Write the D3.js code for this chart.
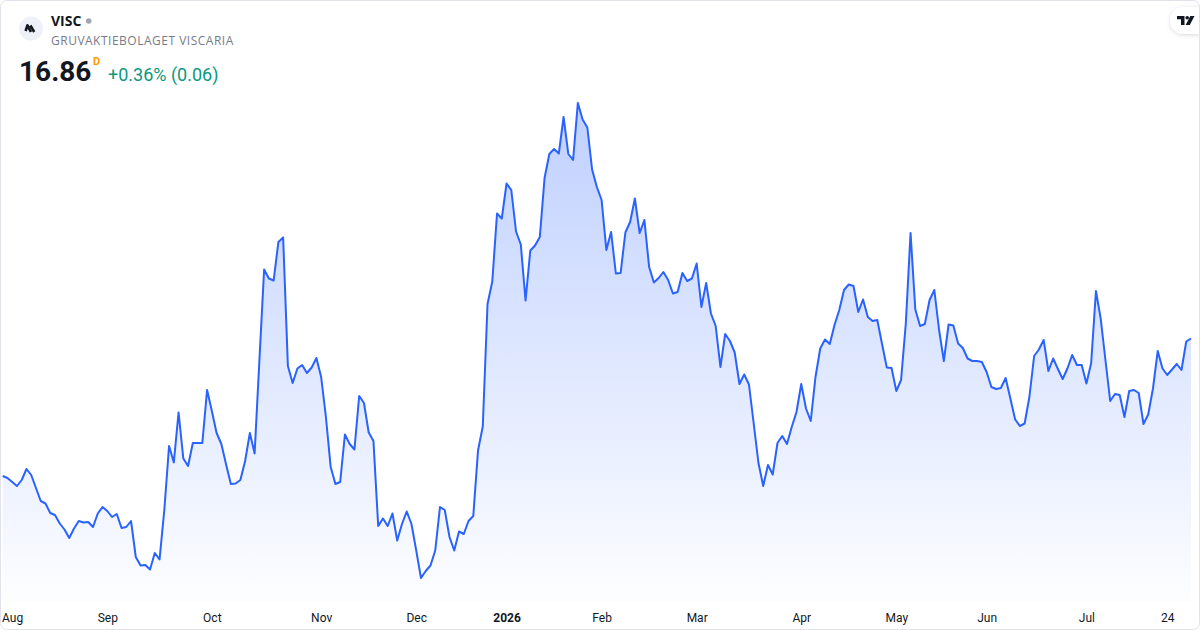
<!DOCTYPE html>
<html>
<head>
<meta charset="utf-8">
<script src="https://cdn.jsdelivr.net/npm/d3@7"></script>
<style>
  body { margin: 0; background: #fff; }
  svg { display: block; font-family: Roboto, "Noto Sans", sans-serif; }
</style>
</head>
<body>
<script>
// daily closes, 31 Jul 2025 .. 31 Jul 2026
const closes = [
  14.11, 14.07, 13.99, 13.91, 14.03, 14.25, 14.13, 13.87, 13.61, 13.56,
  13.37, 13.33, 13.16, 13.04, 12.87, 13.06, 13.21, 13.18, 13.19, 13.09,
  13.36, 13.49, 13.41, 13.29, 13.35, 13.07, 13.09, 13.21, 12.49, 12.32,
  12.33, 12.24, 12.57, 12.44, 13.43, 14.71, 14.38, 15.38, 14.46, 14.31,
  14.77, 14.77, 14.77, 15.83, 15.41, 14.97, 14.75, 14.34, 13.95, 13.96,
  14.03, 14.41, 14.97, 14.56, 16.41, 18.24, 18.06, 18.02, 18.79, 18.88,
  16.31, 15.97, 16.26, 16.33, 16.17, 16.28, 16.47, 16.09, 15.29, 14.29,
  13.95, 13.99, 14.94, 14.75, 14.64, 15.71, 15.57, 14.98, 14.81, 13.11,
  13.26, 13.11, 13.36, 12.82, 13.15, 13.40, 13.15, 12.62, 12.07, 12.21,
  12.32, 12.62, 13.49, 13.43, 12.89, 12.62, 13.00, 12.95, 13.21, 13.31,
  14.62, 15.10, 17.55, 18.00, 19.36, 19.26, 19.96, 19.83, 19.00, 18.74,
  17.62, 18.62, 18.72, 18.89, 20.07, 20.55, 20.65, 20.56, 21.29, 20.55,
  20.43, 21.57, 21.24, 21.08, 20.24, 19.89, 19.63, 18.63, 18.99, 18.16,
  18.17, 18.98, 19.19, 19.66, 18.97, 19.23, 18.29, 17.98, 18.07, 18.19,
  18.03, 17.76, 17.79, 18.17, 18.01, 18.06, 18.36, 17.49, 17.97, 17.36,
  17.11, 16.29, 16.95, 16.81, 16.58, 15.95, 16.14, 15.94, 15.16, 14.37,
  13.91, 14.33, 14.14, 14.77, 14.91, 14.75, 15.09, 15.39, 15.95, 15.46,
  15.21, 16.09, 16.66, 16.84, 16.75, 17.13, 17.43, 17.83, 17.94, 17.91,
  17.39, 17.64, 17.29, 17.21, 17.23, 16.75, 16.28, 16.27, 15.81, 16.03,
  17.16, 18.97, 17.44, 17.11, 17.15, 17.63, 17.83, 17.03, 16.41, 17.14,
  17.12, 16.76, 16.67, 16.46, 16.41, 16.41, 16.39, 16.19, 15.89, 15.85,
  15.87, 16.07, 15.66, 15.24, 15.11, 15.16, 15.69, 16.51, 16.64, 16.83,
  16.21, 16.46, 16.25, 16.05, 16.26, 16.53, 16.33, 16.33, 15.96, 16.37,
  17.81, 17.26, 16.43, 15.61, 15.75, 15.73, 15.29, 15.81, 15.83, 15.77,
  15.15, 15.34, 15.86, 16.61, 16.26, 16.13, 16.24, 16.35, 16.23, 16.80,
  16.86
];

// bar index where each axis label sits
const tickIdx    = [1, 22, 44, 67, 87, 106, 126, 146, 168, 188, 207, 228, 245];
const tickLabels = ["Aug", "Sep", "Oct", "Nov", "Dec", "2026", "Feb", "Mar", "Apr", "May", "Jun", "Jul", "24"];

const W = 1200, H = 630;
const svg = d3.select("body").append("svg").attr("width", W).attr("height", H);

const x = d3.scaleLinear().domain([0, closes.length - 1]).range([2.7, 1191]);
const y = d3.scaleLinear().domain(d3.extent(closes)).range([578, 103]);
const paneBottom = 602;

const defs = svg.append("defs");
const grad = defs.append("linearGradient")
  .attr("id", "fillGrad")
  .attr("gradientUnits", "userSpaceOnUse")
  .attr("x1", 0).attr("y1", 100).attr("x2", 0).attr("y2", paneBottom);
grad.append("stop").attr("offset", "0%").attr("stop-color", "#2962ff").attr("stop-opacity", 0.3);
grad.append("stop").attr("offset", "100%").attr("stop-color", "#2962ff").attr("stop-opacity", 0.01);

const shadow = defs.append("filter").attr("id", "pillShadow")
  .attr("x", "-50%").attr("y", "-50%").attr("width", "200%").attr("height", "200%");
shadow.append("feDropShadow").attr("dx", 0).attr("dy", 1).attr("stdDeviation", 2)
  .attr("flood-color", "#000").attr("flood-opacity", 0.15);

// area + line
svg.append("path")
  .datum(closes)
  .attr("fill", "url(#fillGrad)")
  .attr("d", d3.area().x((d, i) => x(i)).y0(paneBottom).y1(d => y(d)));

svg.append("path")
  .datum(closes)
  .attr("fill", "none")
  .attr("stroke", "#2962ff")
  .attr("stroke-width", 2)
  .attr("stroke-linejoin", "round")
  .attr("d", d3.line().x((d, i) => x(i)).y(d => y(d)));

// time axis
const axis = svg.append("g")
  .attr("transform", `translate(0,${paneBottom + 8})`)
  .call(d3.axisBottom(x).tickValues(tickIdx).tickFormat((d, i) => tickLabels[i]).tickSize(0));
axis.select(".domain").remove();
axis.selectAll("text")
  .attr("fill", "#131722")
  .attr("font-size", 12)
  .attr("font-family", "Roboto, 'Noto Sans', sans-serif")
  .attr("font-weight", d => tickLabels[tickIdx.indexOf(d)] === "2026" ? 700 : 400);
// keep the first label inside the frame
axis.selectAll("text").each(function() {
  const b = this.getBBox();
  const tx = +this.parentNode.getAttribute("transform").match(/translate\(([-\d.]+)/)[1];
  if (tx + b.x < 2) d3.select(this).attr("text-anchor", "start").attr("x", 2 - tx);
});

// header
svg.append("circle").attr("cx", 31).attr("cy", 28.5).attr("r", 12).attr("fill", "#eef1f8");
svg.append("path")
  .attr("d", "M25.6,31 L27.4,25.3 L30.9,32 M30.4,25.3 L34.2,32")
  .attr("fill", "none").attr("stroke", "#131722").attr("stroke-width", 2.6)
  .attr("stroke-linejoin", "round");

svg.append("text").attr("x", 51).attr("y", 26)
  .attr("font-family", "'Open Sans', sans-serif")
  .attr("font-size", 14).attr("font-weight", 700).attr("fill", "#131722").text("VISC");
svg.append("circle").attr("cx", 88.7).attr("cy", 21).attr("r", 2.8).attr("fill", "#a3a6af");
svg.append("text").attr("x", 51).attr("y", 45)
  .attr("font-family", "'Open Sans', sans-serif")
  .attr("letter-spacing", 0.5)
  .attr("font-size", 12).attr("fill", "#787b86").text("GRUVAKTIEBOLAGET VISCARIA");

svg.append("text").attr("x", 19).attr("y", 81)
  .attr("font-size", 28).attr("font-weight", 700).attr("fill", "#131722").text("16.86");
svg.append("text").attr("x", 93).attr("y", 65)
  .attr("font-size", 11).attr("font-weight", 700).attr("fill", "#ff9800").text("D");
svg.append("text").attr("x", 108).attr("y", 81)
  .attr("font-size", 18).attr("fill", "#089981").text("+0.36% (0.06)");

// TradingView badge
svg.append("rect").attr("x", 1170).attr("y", 7).attr("width", 50).attr("height", 27).attr("rx", 13.5)
  .attr("fill", "#fff").attr("filter", "url(#pillShadow)");
svg.append("path")
  .attr("d", "M1177,16 H1184.5 V25 H1181 V19.3 H1177 Z M1190.3,16 H1194.5 L1189.8,25 H1185.6 Z")
  .attr("fill", "#131722");
svg.append("circle").attr("cx", 1187.2).attr("cy", 17.8).attr("r", 1.8).attr("fill", "#131722");

// frame
svg.append("rect").attr("x", 0.5).attr("y", 0.5).attr("width", W - 1).attr("height", H - 1)
  .attr("rx", 6).attr("fill", "none").attr("stroke", "#e0e3eb");
</script>
</body>
</html>
